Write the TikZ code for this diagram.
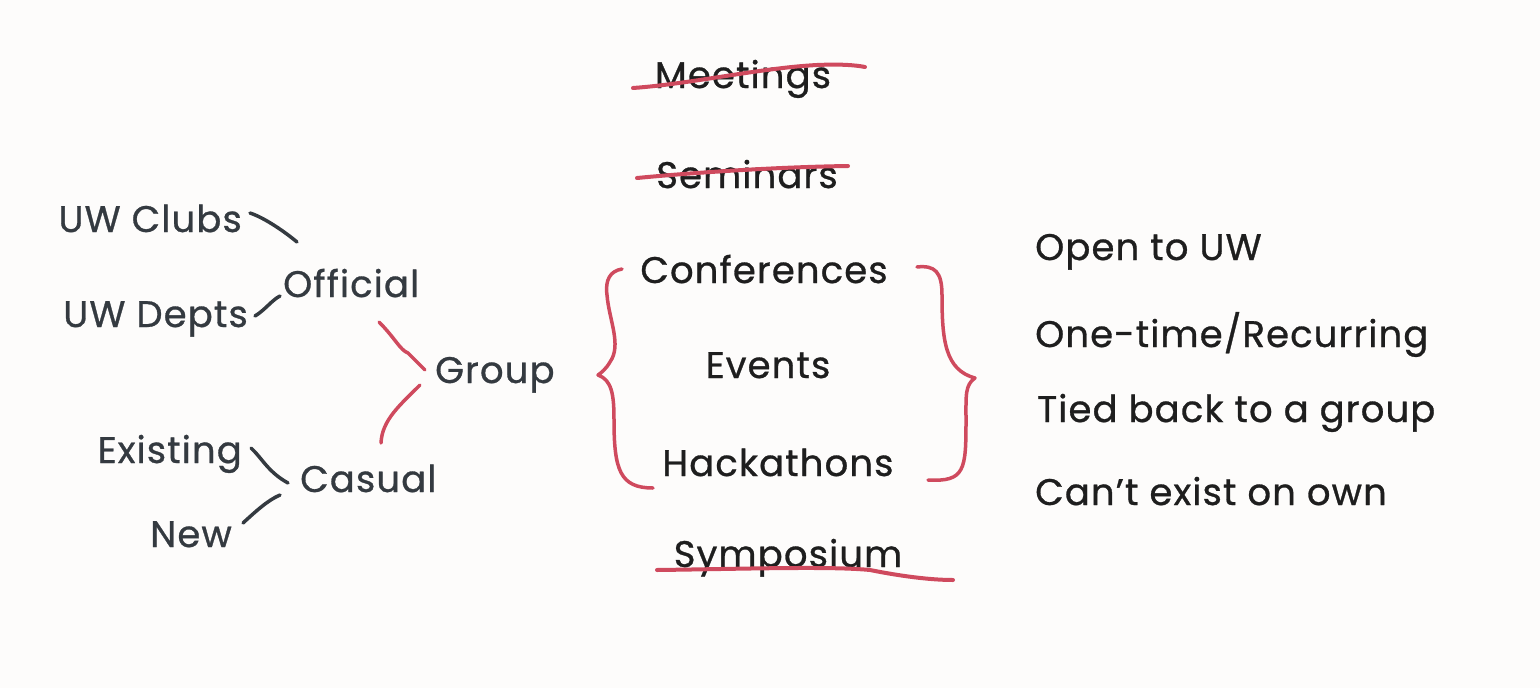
\documentclass[tikz,border=0pt]{standalone}
\usepackage{fontspec}
\setmainfont{Poppins}[LetterSpace=3,FakeBold=0.8]
\usetikzlibrary{calc}
\definecolor{bg}{HTML}{FDFCFB}
\definecolor{ink}{HTML}{1E1E1E}
\definecolor{treeink}{HTML}{343A40}
\definecolor{accent}{HTML}{CF4A5E}
\begin{document}
\begin{tikzpicture}[x=1pt,y=-1pt,
  lbl/.style={font=\fontsize{37}{44}\selectfont, text=ink, inner sep=0pt},
  tree/.style={lbl, text=treeink},
  redline/.style={draw=accent, line width=3.5pt, line cap=round, line join=round},
  darkline/.style={draw=treeink, line width=3.5pt, line cap=round, line join=round},
  strike/.style={draw=accent, line width=4pt, line cap=round}]
\fill[bg] (0,0) rectangle (1540,688);
\useasboundingbox (0,0) rectangle (1540,688);

% middle column
\node[lbl, anchor=base] (meet) at (743,88) {Meetings};
\node[lbl, anchor=base] (semi) at (747,188) {Seminars};
\node[lbl, anchor=base] (conf) at (764,283) {Conferences};
\node[lbl, anchor=base] (evts) at (768,378) {Events};
\node[lbl, anchor=base] (hack) at (778,476) {Hackathons};
\node[lbl, anchor=base] (symp) at (788,567) {Symposium};

% strike-through lines
\draw[strike] (633,88) .. controls (690,84) and (760,68) .. (817,65) .. controls (840,64) and (855,65) .. (865,67);
\draw[strike] (637,178) .. controls (700,172) and (780,167) .. (848,166);
\draw[strike] (657,570) .. controls (740,569) and (830,566) .. (870,570) .. controls (900,576) and (930,580) .. (953,580);

% braces
\draw[redline] (622,269) .. controls (610,271) and (605,280) .. (607,295)
  .. controls (609,320) and (622,345) .. (610,362)
  .. controls (606,369) and (601,373) .. (598,375)
  .. controls (612,380) and (614,395) .. (614,420)
  .. controls (614,470) and (620,488) .. (653,488);
\draw[redline] (917,267) .. controls (935,265) and (942,272) .. (942,295)
  .. controls (942,340) and (945,370) .. (975,378)
  .. controls (965,385) and (966,395) .. (966,420)
  .. controls (966,470) and (965,482) .. (928,480);

% right column
\node[lbl, anchor=base west] (open) at (1035,260) {Open to UW};
\node[lbl, anchor=base west] (once) at (1035,347) {One-time/Recurring};
\node[lbl, anchor=base west] (tied) at (1037,422) {Tied back to a group};
\node[lbl, anchor=base west] (cant) at (1035,505) {Can't exist on own};

% tree
\node[tree, anchor=base east] (clubs) at (242,232) {UW Clubs};
\node[tree, anchor=base east] (depts) at (248,327) {UW Depts};
\node[tree, anchor=base west] (official) at (283,297) {Official};
\node[tree, anchor=base west] (group) at (435,383) {Group};
\node[tree, anchor=base east] (existing) at (242,463) {Existing};
\node[tree, anchor=base west] (casual) at (300,492) {Casual};
\node[tree, anchor=base east] (new) at (232,547) {New};

\draw[darkline] ($(clubs.base east)+(8,-19)$) .. controls +(15,5) and +(-12,-10) .. ($(official.base west)+(14,-55)$);
\draw[darkline] ($(depts.base east)+(7,-11)$) .. controls +(10,-6) and +(-8,4) .. ($(official.base west)+(-3,-1)$);
\draw[darkline] ($(existing.base east)+(9,-15)$) .. controls +(11,10) and +(-20,-11) .. ($(casual.base west)+(-12,-9)$);
\draw[darkline] ($(new.base east)+(11,-24)$) .. controls +(12,-11) and +(-12,5) .. ($(casual.base west)+(-20,3)$);

\draw[redline] ($(official.base west)+(96,25)$) .. controls +(16,16) and +(-8,-3) .. ($(official.base west)+(125,56)$) -- ($(group.base west)+(-10,-13)$);
\draw[redline] ($(casual.base west)+(81,-49)$) .. controls +(1,-23) and +(-20,20) .. ($(group.base west)+(-15,2)$);
\end{tikzpicture}
\end{document}
